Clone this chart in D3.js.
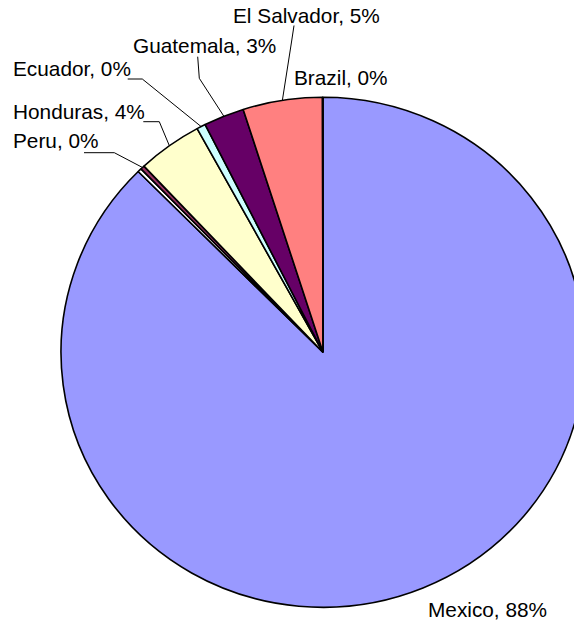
<!DOCTYPE html>
<html><head><meta charset="utf-8">
<script src="https://cdn.jsdelivr.net/npm/d3@7"></script>
<style>
html,body{margin:0;padding:0;background:#fff;}
svg{display:block;}
text{font-family:"Liberation Sans",Arial,sans-serif;fill:#000;}
</style>
</head><body>
<svg id="c" width="574" height="625"></svg>
<script>
// ---- data ----
const categories = ["Mexico", "", "Peru", "Honduras", "Ecuador", "Guatemala", "El Salvador", "Brazil"];
const values = [87.6, 0.24, 0.25, 4.0, 0.55, 2.5, 4.9, 0.03];
const percentLabels = ["88%", "", "0%", "4%", "0%", "3%", "5%", "0%"];

// ---- styles ----
const colors = ["#9999FF", "#FFFFFF", "#993366", "#FFFFCC", "#CCFFFF", "#660066", "#FF8080", "#0066CC"];

// ---- layout of labels (left x, baseline y) and leader-line knees ----
const labelLayout = {
  "Mexico":      {x: 428, y: 616.5, knee: null},
  "Peru":        {x: 13,  y: 148, knee: [[84, 152.7], [114.3, 152.7]]},
  "Honduras":    {x: 13,  y: 118.5, knee: [[143.3, 121.7], [159.3, 121.7]]},
  "Ecuador":     {x: 13,  y: 76,  knee: [[127.7, 79], [142.3, 79]]},
  "Guatemala":   {x: 133, y: 52.5, knee: [[197.7, 56.7], [199.3, 78.3]]},
  "El Salvador": {x: 233, y: 22.7, knee: [[294, 25.5], [291.5, 42]]},
  "Brazil":      {x: 294, y: 85,  knee: null}
};

const cx = 323, cy = 352.3, R = 255, sx = 262 / 255;

const svg = d3.select("#c");
const data = categories.map((c, i) => ({cat: c, value: values[i], pct: percentLabels[i], color: colors[i]}));

const pie = d3.pie().sort(null).value(d => d.value).startAngle(0).endAngle(2 * Math.PI);
const arcs = pie(data);
const arc = d3.arc().innerRadius(0).outerRadius(R);

const g = svg.append("g").attr("transform", `translate(${cx},${cy}) scale(${sx},1)`);
g.selectAll("path").data(arcs).join("path")
  .attr("d", arc)
  .attr("fill", d => d.data.color)
  .attr("stroke", "#000")
  .attr("stroke-width", 1.6)
  .attr("vector-effect", "non-scaling-stroke")
  .attr("stroke-linejoin", "bevel");

// leader lines
arcs.forEach(a => {
  const L = labelLayout[a.data.cat];
  if (!L || !L.knee) return;
  const mid = (a.startAngle + a.endAngle) / 2;
  const ex = cx + sx * R * Math.sin(mid);
  const ey = cy - R * Math.cos(mid);
  const pts = L.knee.concat([[ex, ey]]);
  svg.append("path")
    .attr("d", d3.line()(pts))
    .attr("fill", "none")
    .attr("stroke", "#000")
    .attr("stroke-width", 1);
});

// labels
arcs.forEach(a => {
  const L = labelLayout[a.data.cat];
  if (!L) return;
  svg.append("text")
    .attr("x", L.x).attr("y", L.y)
    .attr("font-size", "20.8px")
    .text(`${a.data.cat}, ${a.data.pct}`);
});
</script>
</body></html>
